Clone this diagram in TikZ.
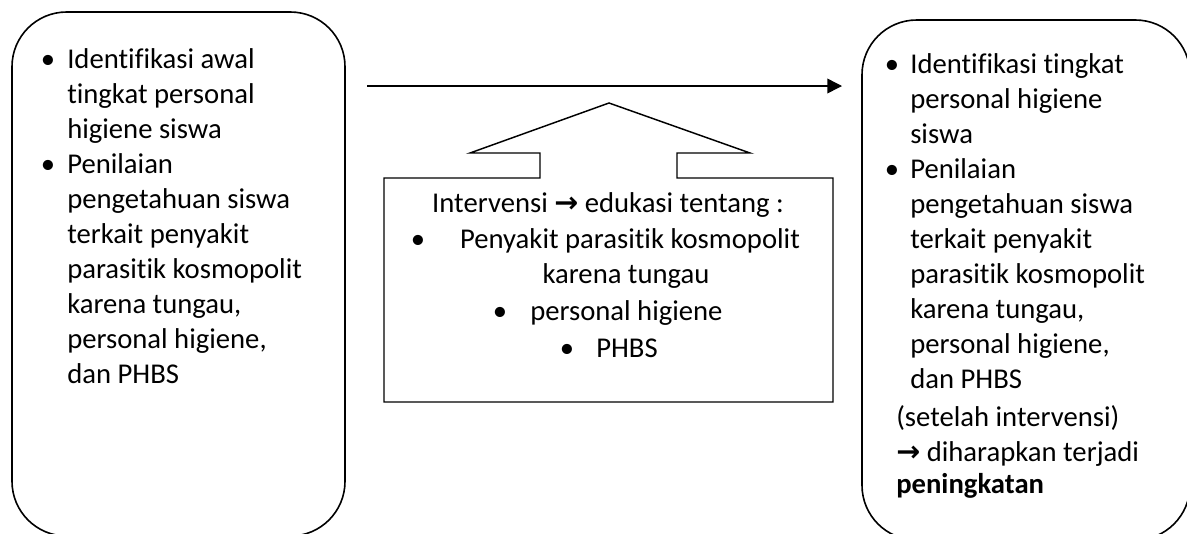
\documentclass[tikz,border=0pt]{standalone}
\usepackage{fontspec}
\setmainfont{Carlito}[Ligatures={NoCommon,NoContextual}]
\newfontfamily\arrowfont{DejaVu Sans}
\usetikzlibrary{arrows.meta}
\tikzstyle{panel}   = [draw, line width=1.2pt, rounded corners=41pt]
\tikzstyle{callout} = [draw, line width=1.1pt]
\tikzstyle{txt}     = [inner sep=0pt, anchor=base west, font=\fontsize{21.5}{26}\selectfont]
\tikzstyle{ctxt}    = [txt, anchor=base]
\tikzstyle{dot}     = [txt, anchor=base]
\tikzstyle{flow}    = [draw, line width=1.1pt, -{Triangle[length=11pt,width=11pt]}]
\newcommand{\thickarr}{{\arrowfont\bfseries →}}

\begin{document}
\begin{tikzpicture}[x=0.75pt, y=-0.75pt]

\useasboundingbox (0,0) rectangle (1187,533);
\clip (0,0) rectangle (1187,533);

% left box (before)
\path [panel] (12,12) rectangle (345,536);
\node [dot ]  (preb0) at (48,68)  {\textbullet};
\node [dot ]  (preb1) at (48,173) {\textbullet};
\foreach \t [count=\i from 0] in {Identifikasi awal, tingkat personal, higiene siswa,
    Penilaian, pengetahuan siswa, terkait penyakit, parasitik kosmopolit,
    {karena tungau,}, {personal higiene,}, dan PHBS}
  \node [txt] (pre\i) at (67,68+35*\i) {\t};

% right box (after)
\path [panel] (862,20) rectangle (1190,540);
\node [dot ]  (postb0) at (892,73)  {\textbullet};
\node [dot ]  (postb1) at (892,178) {\textbullet};
\foreach \t [count=\i from 0] in {Identifikasi tingkat, personal higiene, siswa,
    Penilaian, pengetahuan siswa, terkait penyakit, parasitik kosmopolit,
    {karena tungau,}, {personal higiene,}, dan PHBS}
  \node [txt] (post\i) at (910,73+35*\i) {\t};
\node [txt ]  (post10) at (896,426) {(setelah intervensi)};
\node [txt ]  (post11) at (896,461) {\thickarr{} diharapkan terjadi};
\node [txt ]  (post12) at (896,493) {\textbf{peningkatan}};

% main arrow
\coordinate (from) at (367,86);
\coordinate (to)   at (842,86);
\path [flow] (from) -- (to);

% intervention callout
\path [callout] (540,178) -- (384,178) -- (384,402) -- (833,402) -- (833,178)
             -- (677,178) -- (677,153) -- (750,153) -- (609,103) -- (470,153)
             -- (540,153) -- cycle;
\node [ctxt]  (intv) at (608,212) {Intervensi \thickarr{} edukasi tentang :};
\node [dot ]  (mb1)  at (418,248) {\textbullet};
\node [ctxt]  (m1)   at (630,248) {Penyakit parasitik kosmopolit};
\node [ctxt]  (m1b)  at (626,283) {karena tungau};
\node [dot ]  (mb2)  at (500,320) {\textbullet};
\node [txt ]  (m2)   at (530,320) {personal higiene};
\node [dot ]  (mb3)  at (567,357) {\textbullet};
\node [txt ]  (m3)   at (596,357) {PHBS};

\end{tikzpicture}
\end{document}
